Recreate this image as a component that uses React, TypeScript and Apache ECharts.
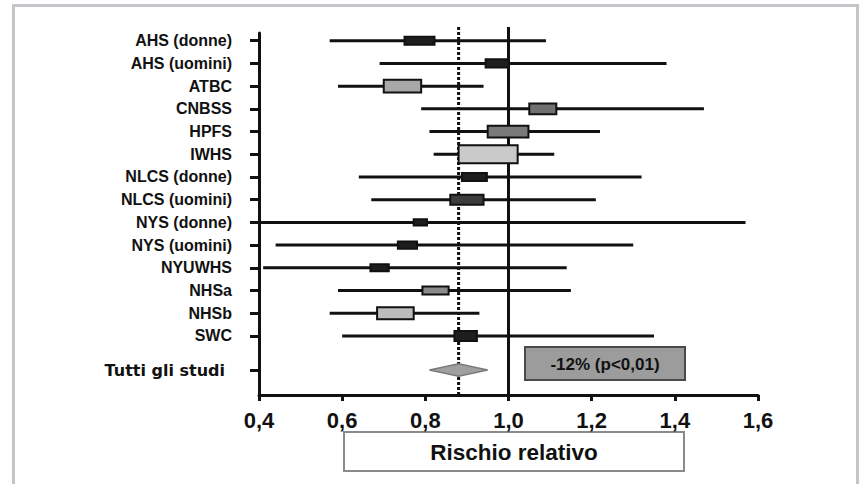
import React, { useEffect, useRef } from "react";
import * as echarts from "echarts";

const studies = [
  "AHS (donne)", "AHS (uomini)", "ATBC", "CNBSS", "HPFS", "IWHS", "NLCS (donne)",
  "NLCS (uomini)", "NYS (donne)", "NYS (uomini)", "NYUWHS", "NHSa", "NHSb", "SWC",
];
const ciLow = [0.57, 0.69, 0.59, 0.79, 0.81, 0.82, 0.64, 0.67, 0.4, 0.44, 0.41, 0.59, 0.57, 0.6];
const ciHigh = [1.09, 1.38, 0.94, 1.47, 1.22, 1.11, 1.32, 1.21, 1.57, 1.3, 1.14, 1.15, 0.93, 1.35];
const boxLow = [0.75, 0.945, 0.7, 1.05, 0.95, 0.88, 0.888, 0.86, 0.772, 0.734, 0.668, 0.793, 0.684, 0.87];
const boxHigh = [0.822, 1.0, 0.79, 1.115, 1.048, 1.022, 0.948, 0.94, 0.804, 0.78, 0.712, 0.856, 0.772, 0.924];
// study weight shown as box height (in row units)
const weights = [0.36, 0.36, 0.56, 0.47, 0.52, 0.8, 0.36, 0.44, 0.27, 0.31, 0.31, 0.36, 0.52, 0.44];
const pooledLabel = "Tutti gli studi";
const pooled = 0.88;
const pooledLow = 0.81;
const pooledHigh = 0.95;
const pooledText = "-12% (p<0,01)";
const referenceValue = 1.0;
const xTitle = "Rischio relativo";

const boxFills = [
  "#1e1e1e", "#1e1e1e", "#a8a8a8", "#707070", "#7a7a7a", "#cacaca", "#1e1e1e",
  "#3c3c3c", "#1e1e1e", "#1e1e1e", "#1e1e1e", "#8a8a8a", "#bcbcbc", "#1e1e1e",
];

const FONT = "'Liberation Sans', Arial, Helvetica, sans-serif";
const POOLED_ROW = 15.5;

export default function App() {
  const ref = useRef<HTMLDivElement>(null);
  useEffect(() => {
    if (!ref.current) return;
    const chart = echarts.init(ref.current, null, { renderer: "svg" });
    const rows = studies.map((_, i) => i + 1);
    const studyData = studies.map((_, i) => [i + 1, ciLow[i], ciHigh[i], boxLow[i], boxHigh[i], weights[i]]);
    const yMin = 0.66;
    const yMax = 16.6;

    const option: any = {
      animation: false,
      backgroundColor: "#ffffff",
      grid: { left: 259, right: 103, top: 33, bottom: 89, outerBoundsMode: "none", containLabel: false },
      xAxis: {
        type: "value",
        min: 0.4,
        max: 1.6,
        interval: 0.2,
        splitLine: { show: false },
        axisLine: { show: true, onZero: false, lineStyle: { color: "#111", width: 3 } },
        axisTick: { show: true, length: 6, lineStyle: { color: "#111", width: 3 } },
        axisLabel: {
          margin: 14,
          fontFamily: FONT,
          fontWeight: "bold",
          fontSize: 22,
          color: "#111",
          formatter: (v: number) => v.toFixed(1).replace(".", ","),
        },
      },
      yAxis: {
        type: "value",
        inverse: true,
        min: yMin,
        max: yMax,
        splitLine: { show: false },
        axisLine: { show: true, onZero: false, lineStyle: { color: "#111", width: 3 } },
        axisTick: {
          show: true,
          length: 9,
          customValues: [...rows, POOLED_ROW],
          lineStyle: { color: "#111", width: 3 },
        },
        axisLabel: {
          margin: 27,
          customValues: [...rows, POOLED_ROW],
          fontFamily: FONT,
          fontWeight: "bold",
          fontSize: 16,
          color: "#111",
          formatter: (v: number) =>
            Math.abs(v - POOLED_ROW) < 0.01 ? `{t|${pooledLabel}}` : studies[Math.round(v) - 1] || "",
          rich: {
            t: {
              fontFamily: "'DejaVu Sans', sans-serif",
              fontWeight: "bold",
              fontSize: 16,
              color: "#111",
              padding: [0, 7, 0, 0],
            },
          },
        },
      },
      series: [
        {
          type: "custom",
          z: 1,
          clip: false,
          data: [
            [referenceValue, 0],
            [pooled, 1],
          ],
          renderItem: (params: any, api: any) => {
            const x = api.value(0);
            const p1 = api.coord([x, 0.4]);
            const p2 = api.coord([x, yMax]);
            const dotted = api.value(1) === 1;
            return {
              type: "line",
              shape: { x1: p1[0], y1: p1[1], x2: p2[0], y2: p2[1] },
              style: dotted
                ? { stroke: "#111", lineWidth: 3, lineDash: [3, 2] }
                : { stroke: "#111", lineWidth: 3 },
            };
          },
        },
        {
          type: "custom",
          z: 3,
          clip: false,
          data: studyData,
          renderItem: (params: any, api: any) => {
            const y = api.value(0);
            const lo = api.coord([api.value(1), y]);
            const hi = api.coord([api.value(2), y]);
            const h = api.value(5);
            const bTop = api.coord([api.value(3), y - h / 2]);
            const bBot = api.coord([api.value(4), y + h / 2]);
            return {
              type: "group",
              children: [
                {
                  type: "line",
                  shape: { x1: lo[0], y1: lo[1], x2: hi[0], y2: hi[1] },
                  style: { stroke: "#111", lineWidth: 3 },
                },
                {
                  type: "rect",
                  shape: { x: bTop[0], y: bTop[1], width: bBot[0] - bTop[0], height: bBot[1] - bTop[1] },
                  style: { fill: boxFills[params.dataIndex], stroke: "#111", lineWidth: 2 },
                },
              ],
            };
          },
        },
        {
          type: "custom",
          z: 3,
          clip: false,
          data: [[POOLED_ROW, pooled, pooledLow, pooledHigh]],
          renderItem: (params: any, api: any) => {
            const y = api.value(0);
            const c = api.coord([api.value(1), y]);
            const l = api.coord([api.value(2), y]);
            const r = api.coord([api.value(3), y]);
            const t = api.coord([api.value(1), y - 0.27]);
            const b = api.coord([api.value(1), y + 0.27]);
            return {
              type: "polygon",
              shape: { points: [[l[0], c[1]], [t[0], t[1]], [r[0], c[1]], [b[0], b[1]]] },
              style: { fill: "#a0a0a0", stroke: "#7a7a7a", lineWidth: 1.5 },
            };
          },
        },
      ],
      graphic: [
        {
          type: "polyline",
          shape: { points: [[13.5, 484], [13.5, 5.5], [857.5, 5.5], [857.5, 484]] },
          style: { stroke: "#c6c6ca", lineWidth: 3, fill: "none" },
          silent: true,
        },
        {
          type: "rect",
          shape: { x: 525, y: 347, width: 160, height: 33 },
          style: { fill: "#9c9c9c", stroke: "#4a4a4a", lineWidth: 2 },
        },
        {
          type: "text",
          x: 605,
          y: 364,
          style: {
            text: pooledText,
            fontFamily: FONT,
            fontWeight: "bold",
            fontSize: 17,
            fill: "#111",
            align: "center",
            verticalAlign: "middle",
          },
        },
        {
          type: "rect",
          shape: { x: 344, y: 432, width: 340, height: 39 },
          style: { fill: "#ffffff", stroke: "#8a8a8a", lineWidth: 2 },
        },
        {
          type: "text",
          x: 514,
          y: 452,
          style: {
            text: xTitle,
            fontFamily: FONT,
            fontWeight: "bold",
            fontSize: 22.5,
            fill: "#111",
            align: "center",
            verticalAlign: "middle",
          },
        },
      ],
    };
    chart.setOption(option);
    return () => chart.dispose();
  }, []);
  return (
    <div
      ref={ref}
      style={{ position: "fixed", left: 0, top: 0, width: 861, height: 484, background: "#fff" }}
    />
  );
}
